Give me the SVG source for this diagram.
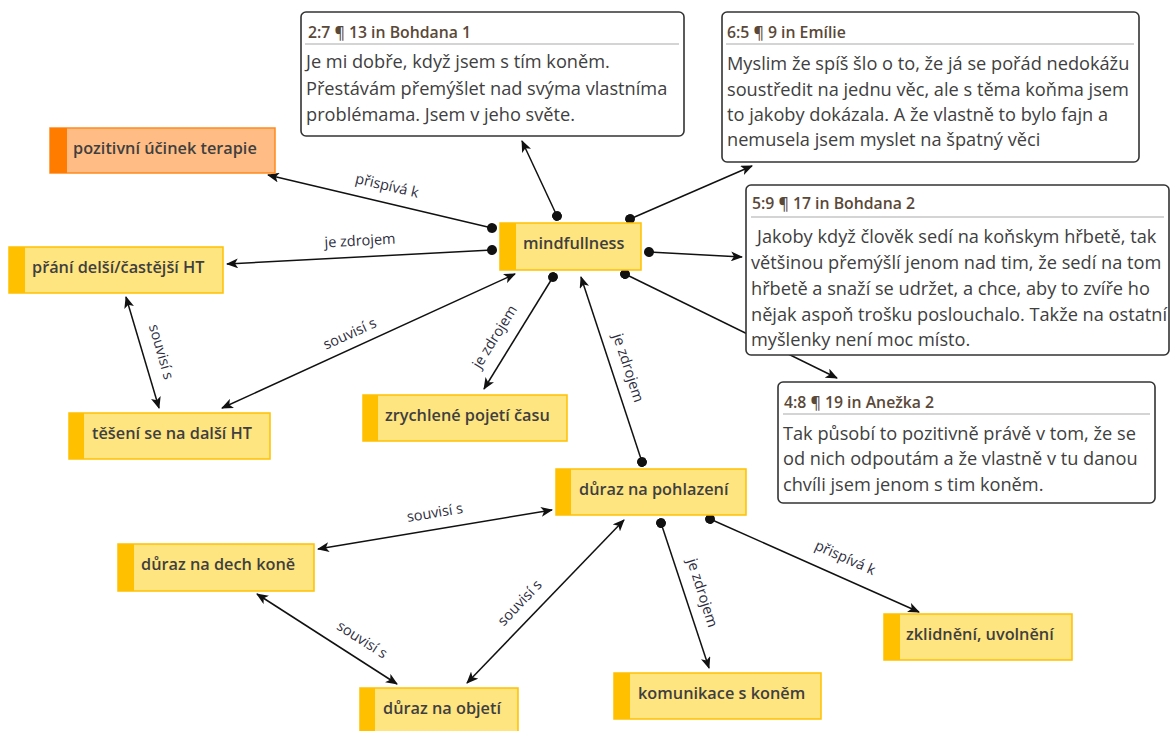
<svg xmlns="http://www.w3.org/2000/svg" width="1170" height="731" viewBox="0 0 1170 731">
<style>
.bg{fill:#ffffff}
.box{fill:#ffe57f;stroke:#ffc000;stroke-width:1.5}
.bar{fill:#ffc000}
.box-o{fill:#ffbd85;stroke:#ff8a1c;stroke-width:1.5}
.bar-o{fill:#ff7c00}
.nt{font-family:"Open Sans","Noto Sans","DejaVu Sans",sans-serif;font-size:16.3px;font-weight:600;fill:#3f3f3f}
.q{fill:#ffffff;stroke:#333333;stroke-width:1.6}
.sep{stroke:#aaaaaa;stroke-width:1.2}
.qh{font-family:"Open Sans","Noto Sans","DejaVu Sans",sans-serif;font-size:15.8px;font-weight:600;fill:#5a4838}
.qt{font-family:"Open Sans","Noto Sans","DejaVu Sans",sans-serif;font-size:18.2px;fill:#404040}
.c{fill:none;stroke:#111111;stroke-width:1.5}
.one{marker-start:url(#dot);marker-end:url(#arr)}
.two{marker-start:url(#arr);marker-end:url(#arr)}
.lbl{font-family:"Open Sans","Noto Sans","DejaVu Sans",sans-serif;font-size:14.5px;fill:#2d2d40;text-anchor:middle}
</style>
<defs>
<marker id="arr" viewBox="0 0 12 10" refX="11" refY="5" markerWidth="12" markerHeight="10" markerUnits="userSpaceOnUse" orient="auto-start-reverse">
<path d="M0,0 L12,5 L0,10 L3,5 z" fill="#111111"/>
</marker>
<marker id="dot" viewBox="0 0 10 10" refX="5" refY="5" markerWidth="10" markerHeight="10" markerUnits="userSpaceOnUse" orient="auto">
<circle cx="5" cy="5" r="5" fill="#111111"/>
</marker>
</defs>
<rect class="bg" x="0" y="0" width="1170" height="731"/>

<g id="connectors">
<path class="c one" d="M492,228 L268,175"/>
<path class="c one" d="M492,250 L227,264"/>
<path class="c two" d="M515,274 L222,408"/>
<path class="c one" d="M553,277 L484,389"/>
<path class="c one" d="M642,462 L581,277"/>
<path class="c one" d="M630,219 L752,166"/>
<path class="c one" d="M557,216 L522,141"/>
<path class="c one" d="M649,252 L742,257"/>
<path class="c one" d="M625,274 L837,378"/>
<path class="c two" d="M126,297 L159,408"/>
<path class="c two" d="M552,510 L318,549"/>
<path class="c two" d="M624,520 L467,683"/>
<path class="c two" d="M257,594 L397,684"/>
<path class="c one" d="M661,523 L709,668"/>
<path class="c one" d="M710,519 L919,612"/>
<g id="labels">
<text class="lbl" transform="translate(387,186) rotate(13.3)" y="4.5">přispívá k</text>
<text class="lbl" transform="translate(360,241) rotate(-3)" y="4.5">je zdrojem</text>
<text class="lbl" transform="translate(350,334) rotate(-24.5)" y="4.5">souvisí s</text>
<text class="lbl" transform="translate(495,337) rotate(-58)" y="4.5">je zdrojem</text>
<text class="lbl" transform="translate(628,368) rotate(72)" y="4.5">je zdrojem</text>
<text class="lbl" transform="translate(161,352) rotate(74)" y="4.5">souvisí s</text>
<text class="lbl" transform="translate(435,513) rotate(-9.5)" y="4.5">souvisí s</text>
<text class="lbl" transform="translate(520,603) rotate(-46.6)" y="4.5">souvisí s</text>
<text class="lbl" transform="translate(362,640) rotate(32.7)" y="4.5">souvisí s</text>
<text class="lbl" transform="translate(702,593) rotate(72.4)" y="4.5">je zdrojem</text>
<text class="lbl" transform="translate(845,558) rotate(24)" y="4.5">přispívá k</text>
</g>
</g>

<g id="n-pozitivni">
<rect class="box-o" x="50" y="128" width="225" height="45"/>
<rect class="bar-o" x="50" y="128" width="17" height="45"/>
<text class="nt" x="73" y="153.5">pozitivní účinek terapie</text>
</g>
<g id="n-prani">
<rect class="box" x="9" y="247" width="214" height="46"/>
<rect class="bar" x="9" y="247" width="16" height="46"/>
<text class="nt" x="32" y="272.5">přání delší/častější HT</text>
</g>
<g id="n-mindfullness">
<rect class="box" x="500" y="223" width="141" height="47"/>
<rect class="bar" x="500" y="223" width="16" height="47"/>
<text class="nt" x="523" y="248.5">mindfullness</text>
</g>
<g id="n-teseni">
<rect class="box" x="69" y="413" width="201" height="46"/>
<rect class="bar" x="69" y="413" width="15" height="46"/>
<text class="nt" x="92" y="438.5">těšení se na další HT</text>
</g>
<g id="n-zrychlene">
<rect class="box" x="363" y="395" width="204" height="46"/>
<rect class="bar" x="363" y="395" width="15" height="46"/>
<text class="nt" x="385" y="420.5">zrychlené pojetí času</text>
</g>
<g id="n-pohlazeni">
<rect class="box" x="556" y="469" width="190" height="46"/>
<rect class="bar" x="556" y="469" width="15" height="46"/>
<text class="nt" x="579" y="494.5">důraz na pohlazení</text>
</g>
<g id="n-dech">
<rect class="box" x="118" y="544" width="196" height="47"/>
<rect class="bar" x="118" y="544" width="16" height="47"/>
<text class="nt" x="141" y="569.5">důraz na dech koně</text>
</g>
<g id="n-objeti">
<rect class="box" x="360" y="688" width="158" height="46"/>
<rect class="bar" x="360" y="688" width="15" height="46"/>
<text class="nt" x="383" y="713.5">důraz na objetí</text>
</g>
<g id="n-komunikace">
<rect class="box" x="614" y="673" width="207" height="46"/>
<rect class="bar" x="614" y="673" width="16" height="46"/>
<text class="nt" x="638" y="698.5">komunikace s koněm</text>
</g>
<g id="n-zklidneni">
<rect class="box" x="884" y="614" width="188" height="46"/>
<rect class="bar" x="884" y="614" width="16" height="46"/>
<text class="nt" x="906" y="639.5">zklidnění, uvolnění</text>
</g>

<g id="q-bohdana1">
<rect class="q" x="301" y="12" width="383" height="124" rx="5"/>
<text class="qh" x="308" y="37.5">2:7 ¶ 13 in Bohdana 1</text>
<line class="sep" x1="305" y1="44" x2="679" y2="44"/>
<text class="qt" x="306" y="68">Je mi dobře, když jsem s tím koněm.</text>
<text class="qt" x="306" y="95">Přestávám přemýšlet nad svýma vlastníma</text>
<text class="qt" x="306" y="121">problémama. Jsem v jeho světe.</text>
</g>
<g id="q-emilie">
<rect class="q" x="722" y="12" width="417" height="150" rx="5"/>
<text class="qh" x="727" y="37.5">6:5 ¶ 9 in Emílie</text>
<line class="sep" x1="726" y1="44" x2="1134" y2="44"/>
<text class="qt" x="727" y="70">Myslim že spíš šlo o to, že já se pořád nedokážu</text>
<text class="qt" x="727" y="96">soustředit na jednu věc, ale s těma koňma jsem</text>
<text class="qt" x="727" y="121">to jakoby dokázala. A že vlastně to bylo fajn a</text>
<text class="qt" x="727" y="146">nemusela jsem myslet na špatný věci</text>
</g>
<g id="q-bohdana2">
<rect class="q" x="746" y="185" width="423" height="170" rx="5"/>
<text class="qh" x="752" y="208.5">5:9 ¶ 17 in Bohdana 2</text>
<line class="sep" x1="751" y1="217" x2="1164" y2="217"/>
<text class="qt" x="757" y="243">Jakoby když člověk sedí na koňskym hřbetě, tak</text>
<text class="qt" x="751" y="269">většinou přemýšlí jenom nad tim, že sedí na tom</text>
<text class="qt" x="751" y="295">hřbetě a snaží se udržet, a chce, aby to zvíře ho</text>
<text class="qt" x="751" y="321">nějak aspoň trošku poslouchalo. Takže na ostatní</text>
<text class="qt" x="751" y="346">myšlenky není moc místo.</text>
</g>
<g id="q-anezka2">
<rect class="q" x="778" y="382" width="377" height="121" rx="5"/>
<text class="qh" x="784" y="407.5">4:8 ¶ 19 in Anežka 2</text>
<line class="sep" x1="783" y1="414" x2="1150" y2="414"/>
<text class="qt" x="783" y="440">Tak působí to pozitivně právě v tom, že se</text>
<text class="qt" x="783" y="465">od nich odpoutám a že vlastně v tu danou</text>
<text class="qt" x="783" y="491">chvíli jsem jenom s tim koněm.</text>
</g>
</svg>
